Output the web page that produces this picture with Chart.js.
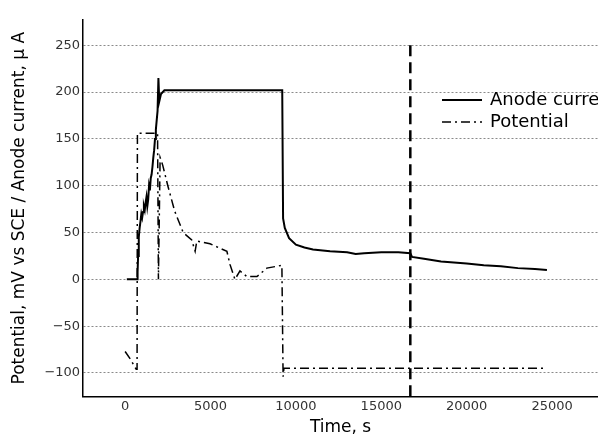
<!DOCTYPE html>
<html>
<head>
<meta charset="utf-8">
<script src="https://cdn.jsdelivr.net/npm/chart.js@4"></script>
<style>
  body { margin: 0; background: #fff; }
  #wrap { width: 598px; height: 436px; }
</style>
</head>
<body>
<div id="wrap"><canvas id="chart" width="598" height="436"></canvas></div>
<script>
// time (s) and anode current (uA)
var currentTime = [100, 700, 730, 760, 800, 850, 900, 950, 1000, 1050, 1100, 1150, 1200, 1250, 1300, 1350, 1400, 1450, 1500, 1550, 1600, 1650, 1700, 1750, 1800, 1850, 1900, 1950, 2000, 2100, 2300, 9200, 9250, 9350, 9600, 10000, 10500, 11000, 12000, 13000, 13500, 14000, 15000, 16000, 16700, 16800, 17500, 18500, 20000, 21000, 22000, 23000, 24000, 24700];
var currentVal  = [0, 0, 8, 25, 45, 55, 62, 70, 66, 72, 78, 74, 82, 88, 78, 85, 100, 95, 108, 112, 120, 130, 138, 150, 160, 170, 180, 215, 190, 198, 202, 202, 65, 55, 44, 37, 34, 32, 30, 29, 27, 28, 29, 29, 28, 24, 22, 19, 17, 15, 14, 12, 11, 10];

// time (s) and potential (mV vs SCE)
var potTime = [0, 300, 650, 700, 720, 1900, 1950, 2050, 2200, 2500, 2900, 3400, 3900, 4100, 4200, 4970, 5960, 6140, 6430, 6725, 7130, 7720, 8300, 9180, 9250, 9300, 24700];
var potVal  = [-77, -85, -96, -96, 156, 156, 0, 130, 122, 100, 73, 50, 42, 30, 41, 38, 30, 16, 0, 9, 3, 3, 12, 15, -104, -95, -95];

// vertical marker
var markerTime = [16700, 16700];
var markerVal  = [250, -125];

var yTicks = [-100, -50, 0, 50, 100, 150, 200, 250];
var xTicks = [0, 5000, 10000, 15000, 20000, 25000];

function pts(xs, ys) {
  return xs.map(function (x, i) { return { x: x, y: ys[i] }; });
}

function plain(v) {
  return String(v).replace('-', '\u2212');
}

var legendPlugin = {
  id: 'insideLegend',
  afterDatasetsDraw: function (chart) {
    var ctx = chart.ctx;
    var items = [
      { label: 'Anode current', ds: chart.data.datasets[0], y: 100 },
      { label: 'Potential', ds: chart.data.datasets[1], y: 122 }
    ];
    ctx.save();
    items.forEach(function (it) {
      ctx.beginPath();
      ctx.strokeStyle = '#000';
      ctx.lineWidth = it.ds.borderWidth;
      ctx.setLineDash(it.ds.borderDash || []);
      ctx.moveTo(442, it.y);
      ctx.lineTo(482, it.y);
      ctx.stroke();
      ctx.setLineDash([]);
      ctx.fillStyle = '#000';
      ctx.font = '18px "DejaVu Sans", sans-serif';
      ctx.textBaseline = 'middle';
      ctx.fillText(it.label, 490, it.y);
    });
    ctx.restore();
  }
};

new Chart(document.getElementById('chart'), {
  type: 'line',
  data: {
    datasets: [
      {
        label: 'Anode current',
        data: pts(currentTime, currentVal),
        borderColor: '#000',
        borderWidth: 2,
        pointRadius: 0,
        tension: 0,
        fill: false
      },
      {
        label: 'Potential',
        data: pts(potTime, potVal),
        borderColor: '#000',
        borderWidth: 1.5,
        borderDash: [9, 4, 2, 4],
        pointRadius: 0,
        tension: 0,
        fill: false
      },
      {
        label: 'marker',
        data: pts(markerTime, markerVal),
        borderColor: '#000',
        borderWidth: 2.5,
        borderDash: [11, 6],
        pointRadius: 0,
        fill: false
      }
    ]
  },
  options: {
    responsive: false,
    animation: false,
    layout: { padding: { top: 20, right: 0, left: 9, bottom: 0 } },
    plugins: {
      legend: { display: false },
      tooltip: { enabled: false }
    },
    scales: {
      x: {
        type: 'linear',
        min: -2460,
        max: 27690,
        afterBuildTicks: function (axis) {
          axis.ticks = xTicks.map(function (v) { return { value: v }; });
        },
        grid: { display: false, drawTicks: false },
        border: { color: '#000', width: 1.5 },
        ticks: {
          color: '#333',
          padding: 2,
          maxRotation: 0,
          callback: plain,
          font: { family: '"DejaVu Sans", sans-serif', size: 13 }
        },
        title: {
          display: true,
          text: 'Time, s',
          color: '#000',
          padding: { top: 3, bottom: 0 },
          font: { family: '"DejaVu Sans", sans-serif', size: 17, lineHeight: 1.0 }
        }
      },
      y: {
        min: -125,
        max: 277,
        afterBuildTicks: function (axis) {
          axis.ticks = yTicks.map(function (v) { return { value: v }; });
        },
        grid: {
          color: '#8a8a8a',
          lineWidth: 1,
          drawTicks: false
        },
        border: { color: '#000', width: 1.5, dash: [2, 2] },
        ticks: {
          color: '#333',
          padding: 3,
          callback: plain,
          font: { family: '"DejaVu Sans", sans-serif', size: 13 }
        },
        title: {
          display: true,
          text: 'Potential, mV vs SCE / Anode current, \u03bc A',
          color: '#000',
          padding: { top: 0, bottom: 12 },
          font: { family: '"DejaVu Sans", sans-serif', size: 17 }
        }
      }
    }
  },
  plugins: [legendPlugin]
});
</script>
</body>
</html>
